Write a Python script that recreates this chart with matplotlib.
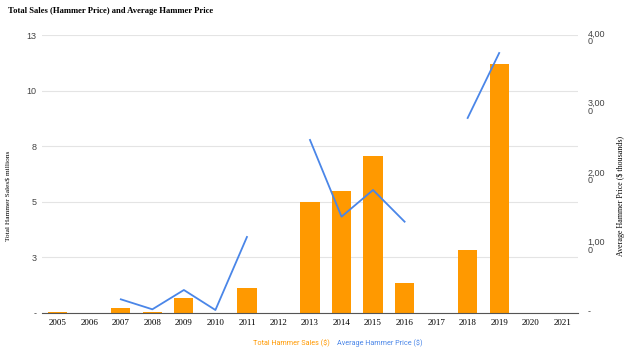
import numpy as np
import matplotlib.pyplot as plt
from matplotlib.transforms import ScaledTranslation

years = ['2005', '2006', '2007', '2008', '2009', '2010', '2011', '2012', '2013',
         '2014', '2015', '2016', '2017', '2018', '2019', '2020', '2021']
# total hammer sales, $ millions
sales = [0.05, 0, 0.21, 0.03, 0.68, 0, 1.12, 0, 5.0,
         5.5, 7.05, 1.34, 0, 2.83, 11.2, 0, 0]
# average hammer price, $
avg_price = [np.nan, np.nan, 197, 53, 331, 43, 1094, np.nan, 2490,
             1386, 1770, 1314, np.nan, 2806, 3741, np.nan, np.nan]

left_ticks = [0, 2.5, 5, 7.5, 10, 12.5]
left_labels = ['-', '3', '5', '8', '10', '13']
right_ticks = [0, 1000, 2000, 3000, 4000]
right_labels = ['-', '1,00\n0', '2,00\n0', '3,00\n0', '4,00\n0']

orange = '#ff9900'
blue = '#4a86e8'

fig = plt.figure(figsize=(6.24, 3.55), dpi=100)
ax = fig.add_axes([42 / 624, 42 / 355, 536 / 624, 278 / 355])
x = np.arange(len(years))

ax.bar(x, sales, width=0.61, color=orange, zorder=2)
ax.set_xlim(-0.5, len(years) - 0.5)
ax.set_ylim(0, 12.5)
ax.set_yticks(left_ticks)
ax.set_yticklabels(left_labels, fontsize=6.5, color='#444444', family='Liberation Sans')
ax.set_xticks(x)
ax.set_xticklabels(years, fontsize=6.5, family='Liberation Serif')
ax.tick_params(length=0, pad=4)
ax.grid(axis='y', color='#e4e4e4', linewidth=0.8, zorder=0)
for s in ['top', 'right', 'left']:
    ax.spines[s].set_visible(False)
ax.spines['bottom'].set_color('#555555')
ax.spines['bottom'].set_linewidth(0.8)
ax.set_ylabel('Total Hammer Sales$ millions', fontsize=5.3, family='Liberation Serif')
ax.yaxis.set_label_coords(-0.056, 0.42)

ax2 = ax.twinx()
ax2.plot(x, avg_price, color=blue, linewidth=1.3, zorder=3)
ax2.set_ylim(0, 4000)
ax2.set_yticks(right_ticks)
ax2.set_yticklabels(right_labels, fontsize=6.5, color='#444444', family='Liberation Sans',
                    linespacing=0.8, va='top')
ax2.tick_params(length=0, pad=7)
shift = ScaledTranslation(0, 4 / 72, fig.dpi_scale_trans)
for lab in ax2.get_yticklabels():
    lab.set_transform(lab.get_transform() + shift)
for s in ['top', 'right', 'left', 'bottom']:
    ax2.spines[s].set_visible(False)
ax2.set_ylabel('Average Hammer Price ($ thousands)', fontsize=5.8, family='Liberation Serif',
               rotation=90)
ax2.yaxis.set_label_coords(1.073, 0.42)

fig.text(8 / 624, 1 - 11 / 355, 'Total Sales (Hammer Price) and Average Hammer Price',
         fontsize=6.2, fontweight='bold', family='Liberation Serif', va='center')
fig.text(330 / 624, 1 - 343 / 355, 'Total Hammer Sales ($)', color=orange, fontsize=5.2,
         family='Roboto', ha='right', va='center')
fig.text(337 / 624, 1 - 343 / 355, 'Average Hammer Price ($)', color=blue, fontsize=5.2,
         family='Roboto', ha='left', va='center')

fig.savefig('out.png', dpi=100)
